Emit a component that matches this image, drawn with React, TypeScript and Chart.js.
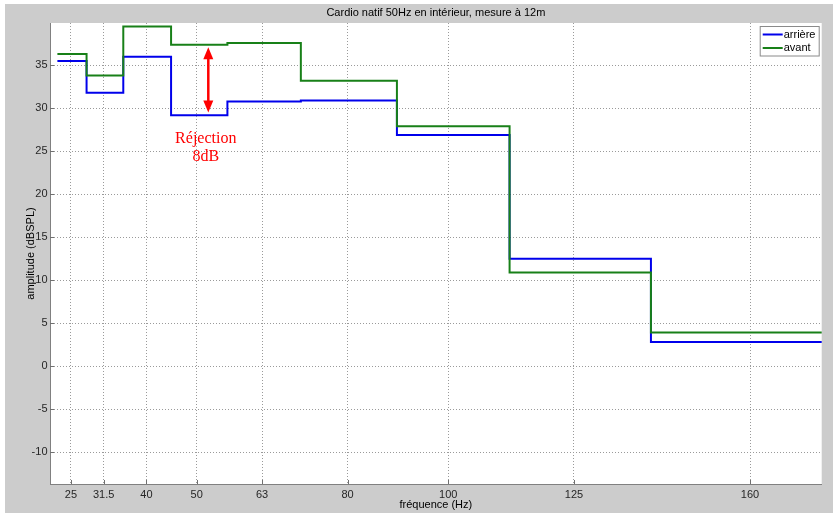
import { useEffect, useRef } from 'react';
import { Chart, registerables } from 'chart.js';

Chart.register(...registerables);

// third-octave bands (Hz)
const bandCenters = [25, 31.5, 40, 50, 63, 80, 100, 125, 160];
const bandEdges = [22.3, 28.1, 35.4, 44.9, 56.1, 70.7, 89.8, 112.2, 140.3, 179.6];
const yTicks = [-10, -5, 0, 5, 10, 15, 20, 25, 30, 35];

// levels per band (dBSPL)
const arriere = [35.5, 31.8, 36.0, 29.2, 30.8, 30.9, 26.9, 12.5, 2.8];
const avant = [36.3, 33.8, 39.5, 37.4, 37.6, 33.2, 27.9, 10.9, 3.9];

// annotation: arrow between the two curves and its text
const arrowX = 52.3;
const arrowY = [37.1, 29.5];
const noteX = 51.8;
const noteY = 26.5;
const noteLines = ['Réjection', '8dB'];

const FONT = '"Liberation Sans", Arial, sans-serif';

const toSteps = (vals: number[]) => {
  const pts = vals.map((v, i) => ({ x: bandEdges[i], y: v }));
  pts.push({ x: bandEdges[vals.length], y: vals[vals.length - 1] });
  return pts;
};

const frame = {
  id: 'frame',
  beforeDraw(chart: any) {
    const { ctx, width, height, chartArea: a } = chart;
    ctx.save();
    ctx.fillStyle = '#ffffff';
    ctx.fillRect(0, 0, width, height);
    ctx.fillStyle = '#cccccc';
    ctx.fillRect(5, 4, width - 7, height - 10);
    ctx.fillStyle = '#ffffff';
    ctx.fillRect(a.left, a.top, a.right - a.left, a.bottom - a.top);
    ctx.restore();
  },
  afterDraw(chart: any) {
    const { ctx, chartArea: a, scales } = chart;
    ctx.save();
    // inward tick marks
    ctx.strokeStyle = '#707070';
    ctx.lineWidth = 1;
    ctx.beginPath();
    bandCenters.forEach((f) => {
      const px = Math.round(scales.x.getPixelForValue(f)) + 0.5;
      ctx.moveTo(px, a.bottom);
      ctx.lineTo(px, a.bottom - 4);
    });
    yTicks.forEach((t) => {
      const py = Math.round(scales.y.getPixelForValue(t)) + 0.5;
      ctx.moveTo(a.left, py);
      ctx.lineTo(a.left + 4, py);
    });
    ctx.stroke();

    // legend box
    const bx = a.right - 62;
    const by = a.top + 3;
    ctx.fillStyle = '#ffffff';
    ctx.fillRect(bx, by, 59, 29.5);
    ctx.strokeStyle = '#8a8a8a';
    ctx.strokeRect(bx + 0.5, by + 0.5, 59, 29.5);
    ctx.font = `11px ${FONT}`;
    ctx.textBaseline = 'middle';
    ctx.textAlign = 'left';
    chart.data.datasets.forEach((ds: any, i: number) => {
      const ly = by + 8.5 + i * 13.5;
      ctx.strokeStyle = ds.borderColor;
      ctx.lineWidth = 2;
      ctx.beginPath();
      ctx.moveTo(bx + 3, ly);
      ctx.lineTo(bx + 23, ly);
      ctx.stroke();
      ctx.fillStyle = '#000000';
      ctx.fillText(ds.label, bx + 24, ly);
    });
    ctx.restore();
  },
  afterDatasetsDraw(chart: any) {
    const { ctx, scales } = chart;
    const x = scales.x.getPixelForValue(arrowX);
    const y1 = scales.y.getPixelForValue(arrowY[0]);
    const y2 = scales.y.getPixelForValue(arrowY[1]);
    ctx.save();
    ctx.strokeStyle = '#ff0000';
    ctx.fillStyle = '#ff0000';
    ctx.lineWidth = 2.5;
    ctx.beginPath();
    ctx.moveTo(x, y1 + 10);
    ctx.lineTo(x, y2 - 10);
    ctx.stroke();
    ctx.beginPath();
    ctx.moveTo(x, y1);
    ctx.lineTo(x - 5, y1 + 12);
    ctx.lineTo(x + 5, y1 + 12);
    ctx.closePath();
    ctx.fill();
    ctx.beginPath();
    ctx.moveTo(x, y2);
    ctx.lineTo(x - 5, y2 - 12);
    ctx.lineTo(x + 5, y2 - 12);
    ctx.closePath();
    ctx.fill();

    ctx.font = '16px "Liberation Serif", "Times New Roman", serif';
    ctx.textAlign = 'center';
    ctx.textBaseline = 'middle';
    const tx = scales.x.getPixelForValue(noteX);
    const ty = scales.y.getPixelForValue(noteY);
    noteLines.forEach((s, i) => ctx.fillText(s, tx, ty + i * 18));
    ctx.restore();
  },
};

export default function App() {
  const canvasRef = useRef<HTMLCanvasElement>(null);

  useEffect(() => {
    if (!canvasRef.current) return;
    const chart = new Chart(canvasRef.current, {
      type: 'line',
      data: {
        datasets: [
          {
            label: 'arrière',
            data: toSteps(arriere),
            borderColor: 'rgb(0,0,235)',
            borderWidth: 2,
            stepped: 'before',
            pointRadius: 0,
            order: 2,
          },
          {
            label: 'avant',
            data: toSteps(avant),
            borderColor: 'rgb(24,128,24)',
            borderWidth: 2,
            stepped: 'before',
            pointRadius: 0,
            order: 1,
          },
        ],
      },
      options: {
        responsive: false,
        animation: false,
        layout: { padding: { left: 5, right: 13.3, top: 0, bottom: 0 } },
        plugins: {
          legend: { display: false },
          tooltip: { enabled: false },
          title: {
            display: true,
            fullSize: false,
            text: 'Cardio natif 50Hz en intérieur, mesure à 12m',
            color: '#000000',
            font: { family: FONT, size: 11, weight: 'normal' },
            padding: { top: 6.4, bottom: 3.4 },
          },
        },
        scales: {
          x: {
            type: 'linear',
            min: 20.83,
            max: 174.25,
            afterBuildTicks: (s: any) => {
              s.ticks = bandCenters.map((v) => ({ value: v }));
            },
            afterFit: (s: any) => {
              s.height = 35;
            },
            ticks: {
              autoSkip: false,
              maxRotation: 0,
              padding: 4,
              color: '#262626',
              font: { family: FONT, size: 11 },
              callback: (v: any) => String(v),
            },
            grid: { color: '#9a9a9a', drawTicks: false, lineWidth: 1 },
            border: { display: true, color: '#808080', dash: [1, 2] },
            title: {
              display: true,
              text: 'fréquence (Hz)',
              color: '#000000',
              font: { family: FONT, size: 11 },
              padding: { top: 0, bottom: 7.4 },
            },
          },
          y: {
            type: 'linear',
            min: -13.72,
            max: 39.92,
            afterBuildTicks: (s: any) => {
              s.ticks = yTicks.map((v) => ({ value: v }));
            },
            afterFit: (s: any) => {
              s.width = 45;
            },
            ticks: {
              padding: 2.5,
              color: '#262626',
              font: { family: FONT, size: 11 },
              callback: (v: any) => String(v),
            },
            grid: { color: '#9a9a9a', drawTicks: false, lineWidth: 1 },
            border: { display: true, color: '#808080', dash: [1, 2] },
            title: {
              display: true,
              text: 'amplitude (dBSPL)',
              color: '#000000',
              font: { family: FONT, size: 11 },
              padding: { top: 19.4, bottom: 0 },
            },
          },
        },
      },
      plugins: [frame],
    });
    return () => chart.destroy();
  }, []);

  return (
    <div style={{ position: 'fixed', left: 0, top: 0, width: 835, height: 519, background: '#fff' }}>
      <canvas ref={canvasRef} width={835} height={519} style={{ width: 835, height: 519, display: 'block' }}></canvas>
    </div>
  );
}
